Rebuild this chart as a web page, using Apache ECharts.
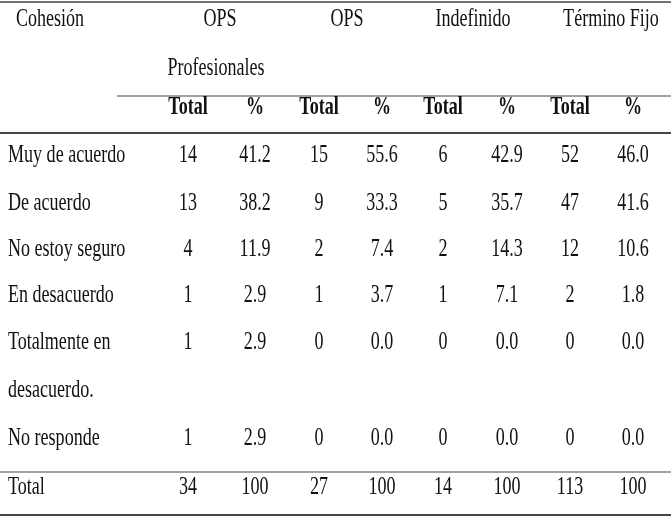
<!DOCTYPE html>
<html><head><meta charset="utf-8">
<script src="https://cdn.jsdelivr.net/npm/echarts@6/dist/echarts.min.js"></script>
<style>html,body{margin:0;background:#fff}#c{width:671px;height:517px}</style>
</head><body><div id="c"></div>
<script>
const groups = ['OPS', 'OPS', 'Indefinido', 'Término Fijo'];
const rowLabels = ['Muy de acuerdo', 'De acuerdo', 'No estoy seguro', 'En desacuerdo', 'Totalmente en', 'No responde', 'Total'];
const totals = [
  [14, 15, 6, 52],
  [13, 9, 5, 47],
  [4, 2, 2, 12],
  [1, 1, 1, 2],
  [1, 0, 0, 0],
  [1, 0, 0, 0],
  [34, 27, 14, 113]
];
const percents = [
  ['41.2', '55.6', '42.9', '46.0'],
  ['38.2', '33.3', '35.7', '41.6'],
  ['11.9', '7.4', '14.3', '10.6'],
  ['2.9', '3.7', '7.1', '1.8'],
  ['2.9', '0.0', '0.0', '0.0'],
  ['2.9', '0.0', '0.0', '0.0'],
  ['100', '100', '100', '100']
];

// layout
const GROUP_X = [220, 347, 473, 611];
const TOTAL_X = [188, 319, 443, 570];
const PCT_X = [255, 382, 507, 633];
const ROW_Y = [156, 204, 250, 296, 343, 439, 488];
const FONT = '19px "Liberation Serif", serif';
const BOLD = 'bold 19px "Liberation Serif", serif';

function txt(text, x, y, align, font) {
  return {
    type: 'text', x: x, y: y, scaleX: 0.95, scaleY: 1.3,
    style: { text: String(text), font: font || FONT, fill: '#111', align: align || 'center', verticalAlign: 'middle' }
  };
}
function line(x1, y, x2, w) {
  return { type: 'line', shape: { x1: x1, y1: y, x2: x2, y2: y }, style: { stroke: '#444', lineWidth: w || 1.5 } };
}

let els = [];
els.push(line(0, 2, 671, 1.5));
els.push(line(117, 96, 671, 1.2));
els.push(line(0, 133, 671, 2));
els.push(line(0, 472, 671, 1.2));
els.push(line(0, 515, 671, 2));

els.push(txt('Cohesión', 50, 20));
groups.forEach((g, i) => els.push(txt(g, GROUP_X[i], 20)));
els.push(txt('Profesionales', 216, 69));
for (let i = 0; i < 4; i++) {
  els.push(txt('Total', TOTAL_X[i], 108, 'center', BOLD));
  els.push(txt('%', PCT_X[i], 108, 'center', BOLD));
}
rowLabels.forEach((r, ri) => {
  els.push(txt(r, 8, ROW_Y[ri], 'left'));
  for (let i = 0; i < 4; i++) {
    els.push(txt(totals[ri][i], TOTAL_X[i], ROW_Y[ri]));
    els.push(txt(percents[ri][i], PCT_X[i], ROW_Y[ri]));
  }
});
els.push(txt('desacuerdo.', 8, 391, 'left'));

let myChart = echarts.init(document.getElementById('c'));
myChart.setOption({ backgroundColor: '#fff', graphic: els });
</script>
</body></html>
